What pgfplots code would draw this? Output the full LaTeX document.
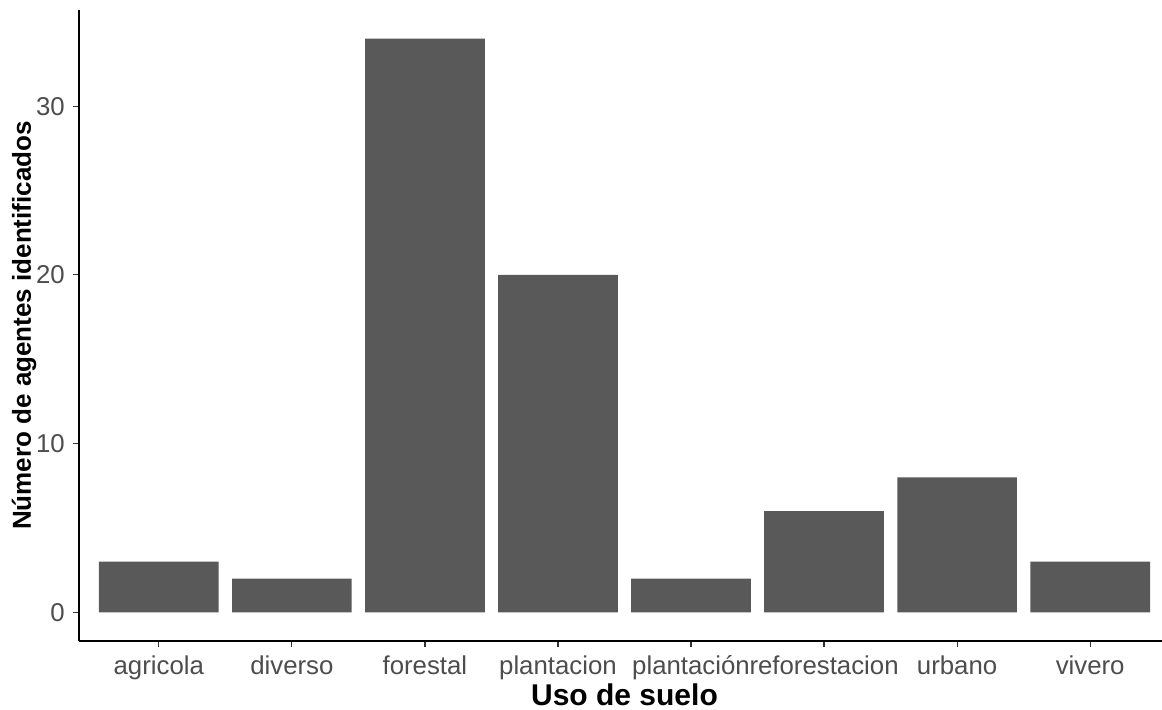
\documentclass[border=0pt]{standalone}
\usepackage{fontspec}
\setmainfont{Liberation Sans}
\usepackage{pgfplots}
\pgfplotsset{compat=1.18}
\definecolor{barc}{HTML}{595959}
\definecolor{tickc}{HTML}{4D4D4D}
\begin{document}
\begin{tikzpicture}
\begin{axis}[
  name=ax,
  scale only axis,
  width=541.5pt, height=315.5pt,
  xmin=-0.6, xmax=7.54, ymin=-1.7, ymax=35.7,
  axis x line*=bottom, axis y line*=left,
  axis line style={line width=0.6pt, -},
  xtick={0,...,7},
  xticklabels={agricola,diverso,forestal,plantacion,plantación,reforestacion,urbano,vivero},
  ytick={0,10,20,30},
  tick align=outside,
  major tick length=2.75pt,
  tick style={color=black!80, line width=0.6pt},
  /pgf/number format/assume math mode=true,
  xticklabel style={font=\fontsize{12.9}{14}\selectfont, text=tickc, yshift=-1.2pt},
  yticklabel style={font=\fontsize{12.9}{14}\selectfont, text=tickc, xshift=-0.8pt},
  every axis x label/.style={at={(rel axis cs:0.5037,0)}, anchor=base, yshift=-32pt},
  every axis y label/.style={at={(rel axis cs:0,0.5)}, xshift=-24pt, rotate=90, anchor=base},
  xlabel={\fontsize{15}{17}\selectfont\bfseries Uso de suelo},
  ylabel={\fontsize{13}{15}\selectfont\bfseries Número de agentes identificados},
]
\addplot[ybar, bar width=0.9, fill=barc, draw=none] coordinates {(0,3) (1,2) (2,34) (3,20) (4,2) (5,6) (6,8) (7,3)};
\end{axis}
\pgfresetboundingbox
\path ([shift={(-39.5pt,-34pt)}]ax.south west) rectangle ([shift={(0pt,5pt)}]ax.north east);
\end{tikzpicture}
\end{document}
